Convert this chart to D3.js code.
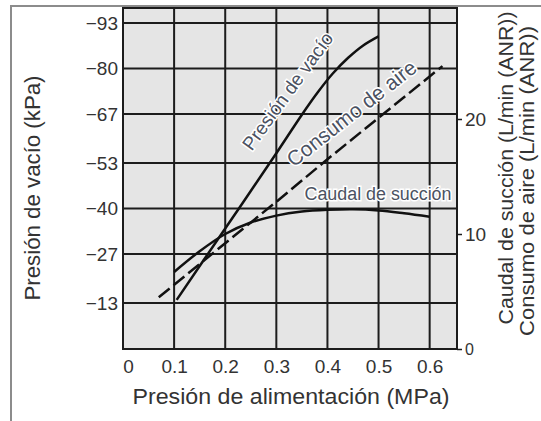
<html>
<head>
  <meta charset="utf-8">
  <script src="https://d3js.org/d3.v7.min.js"></script>
  <style>
    body { margin: 0; background: #fff; }
    text { font-family: "Liberation Sans", Arial, sans-serif; }
  </style>
</head>
<body>
  <div id="chart"></div>

  <script>
    // chart values
    var xTicks = [0, 0.1, 0.2, 0.3, 0.4, 0.5, 0.6];
    var vacTicks = [-93, -80, -67, -53, -40, -27, -13];
    var flowTicks = [0, 10, 20];

    // Presión de vacío (kPa, left axis)
    var vacioX = [0.105, 0.2, 0.25, 0.3, 0.35, 0.38, 0.41, 0.44, 0.47, 0.5];
    var vacioY = [-13.9, -34.3, -45, -55.8, -66.8, -73, -78.5, -83, -86.6, -89.2];

    // Consumo de aire (L/min, right axis) - dashed
    var consumoX = [0.07, 0.2, 0.3, 0.4, 0.5, 0.625];
    var consumoY = [4.5, 9.2, 12.8, 16.5, 20.1, 24.6];

    // Caudal de succión (L/min, right axis)
    var caudalX = [0.1, 0.15, 0.2, 0.25, 0.3, 0.35, 0.4, 0.45, 0.5, 0.55, 0.6];
    var caudalY = [6.7, 8.5, 10.0, 11.0, 11.6, 11.95, 12.1, 12.15, 12.05, 11.8, 11.5];

    var W = 541, H = 421;
    var pLeft = 123, pRight = 457, pTop = 8, pBottom = 349;

    var x = d3.scaleLinear().domain([0, 0.6535]).range([pLeft, pRight]);
    var yL = d3.scaleLinear().domain([0, -97.3]).range([348.5, pTop]);
    var yR = d3.scaleLinear().domain([0, 20]).range([pBottom, 119]);

    var svg = d3.select("#chart").append("svg")
        .attr("width", W)
        .attr("height", H);

    // outer frame (left + top only)
    svg.append("line").attr("x1", 11).attr("x2", 11).attr("y1", 6).attr("y2", H)
        .style("stroke", "#8c8c8c").style("stroke-width", 2);
    svg.append("line").attr("x1", 10).attr("x2", W).attr("y1", 6).attr("y2", 6)
        .style("stroke", "#8c8c8c").style("stroke-width", 2);

    // plot background
    svg.append("rect")
        .attr("x", pLeft).attr("y", pTop)
        .attr("width", pRight - pLeft).attr("height", pBottom - pTop)
        .style("fill", "#e5e5e5");

    // grid lines
    svg.append("g").selectAll("line")
        .data(xTicks.filter(function(d) { return d > 0; }))
        .enter().append("line")
        .attr("x1", function(d) { return x(d); })
        .attr("x2", function(d) { return x(d); })
        .attr("y1", pTop).attr("y2", pBottom)
        .style("stroke", "#1c1c1c").style("stroke-width", 2);

    svg.append("g").selectAll("line")
        .data(vacTicks)
        .enter().append("line")
        .attr("x1", pLeft).attr("x2", pRight)
        .attr("y1", function(d) { return yL(d); })
        .attr("y2", function(d) { return yL(d); })
        .style("stroke", "#1c1c1c").style("stroke-width", 2);

    svg.append("rect")
        .attr("x", pLeft).attr("y", pTop)
        .attr("width", pRight - pLeft).attr("height", pBottom - pTop)
        .style("fill", "none").style("stroke", "#1c1c1c").style("stroke-width", 2);

    // axes
    var xAxis = svg.append("g")
        .attr("transform", "translate(0," + pBottom + ")")
        .call(d3.axisBottom(x).tickValues(xTicks).tickSize(0).tickPadding(11)
          .tickFormat(function(d) { return d === 0 ? "0" : d.toFixed(1); }));
    xAxis.select(".domain").remove();
    xAxis.selectAll("text").style("font-size", "19px").style("fill", "#333")
        .attr("dx", function(d) { return d === 0 ? 5 : 0; });

    var yAxisL = svg.append("g")
        .attr("transform", "translate(" + pLeft + ",0)")
        .call(d3.axisLeft(yL).tickValues(vacTicks).tickSize(0).tickPadding(5));
    yAxisL.select(".domain").remove();
    yAxisL.selectAll("text").style("font-size", "19px").style("fill", "#333");

    var yAxisR = svg.append("g")
        .attr("transform", "translate(" + pRight + ",0)")
        .call(d3.axisRight(yR).tickValues(flowTicks).tickSize(5).tickPadding(3));
    yAxisR.select(".domain").remove();
    yAxisR.selectAll("line").style("stroke", "#1c1c1c").style("stroke-width", 1.5);
    yAxisR.selectAll("text").style("fill", "#333")
        .style("font-size", function(d) { return d === 0 ? "16px" : "19px"; });

    // axis titles
    svg.append("text")
        .attr("transform", "translate(" + 291 + "," + 404 + ")")
        .attr("text-anchor", "middle")
        .attr("textLength", 317).attr("lengthAdjust", "spacingAndGlyphs")
        .style("font-size", "22px").style("fill", "#333")
        .text("Presión de alimentación (MPa)");

    svg.append("text")
        .attr("transform", "translate(40,188) rotate(-90)")
        .attr("text-anchor", "middle")
        .attr("textLength", 225).attr("lengthAdjust", "spacingAndGlyphs")
        .style("font-size", "22px").style("fill", "#333")
        .text("Presión de vacío (kPa)");

    svg.append("text")
        .attr("transform", "translate(513,168) rotate(-90)")
        .attr("text-anchor", "middle")
        .attr("textLength", 313).attr("lengthAdjust", "spacingAndGlyphs")
        .style("font-size", "21px").style("fill", "#333")
        .text("Caudal de succión (L/min (ANR))");

    svg.append("text")
        .attr("transform", "translate(534,181) rotate(-90)")
        .attr("text-anchor", "middle")
        .attr("textLength", 310).attr("lengthAdjust", "spacingAndGlyphs")
        .style("font-size", "21px").style("fill", "#333")
        .text("Consumo de aire (L/min (ANR))");

    // curves
    var lineL = d3.line()
        .x(function(d) { return x(d[0]); })
        .y(function(d) { return yL(d[1]); })
        .curve(d3.curveCatmullRom.alpha(0.5));
    var lineR = d3.line()
        .x(function(d) { return x(d[0]); })
        .y(function(d) { return yR(d[1]); })
        .curve(d3.curveCatmullRom.alpha(0.5));
    var lineStraight = d3.line()
        .x(function(d) { return x(d[0]); })
        .y(function(d) { return yR(d[1]); });

    svg.append("path")
        .datum(d3.zip(vacioX, vacioY))
        .attr("d", lineL)
        .style("fill", "none").style("stroke", "#111").style("stroke-width", 2.5);

    svg.append("path")
        .datum(d3.zip(caudalX, caudalY))
        .attr("d", lineR)
        .style("fill", "none").style("stroke", "#111").style("stroke-width", 2.5);

    svg.append("path")
        .datum(d3.zip(consumoX, consumoY))
        .attr("d", lineStraight)
        .style("fill", "none").style("stroke", "#111").style("stroke-width", 2.5)
        .style("stroke-dasharray", "14,5");

    // curve labels
    function curveLabel(txt, cx, cy, angle, size, len) {
      var t = svg.append("text")
          .attr("transform", "translate(" + cx + "," + cy + ") rotate(" + angle + ")")
          .attr("text-anchor", "middle")
          .style("font-size", size + "px")
          .style("fill", "#4b5262")
          .style("stroke", "#fff").style("stroke-width", 3)
          .style("paint-order", "stroke")
          .text(txt);
      if (len) t.attr("textLength", len).attr("lengthAdjust", "spacingAndGlyphs");
    }
    curveLabel("Presión de vacío", 293, 95, -54, 19, 140);
    curveLabel("Consumo de aire", 356, 119, -38, 21, 158);
    curveLabel("Caudal de succión", 378, 200, 0, 18, 147);
  </script>
</body>
</html>
